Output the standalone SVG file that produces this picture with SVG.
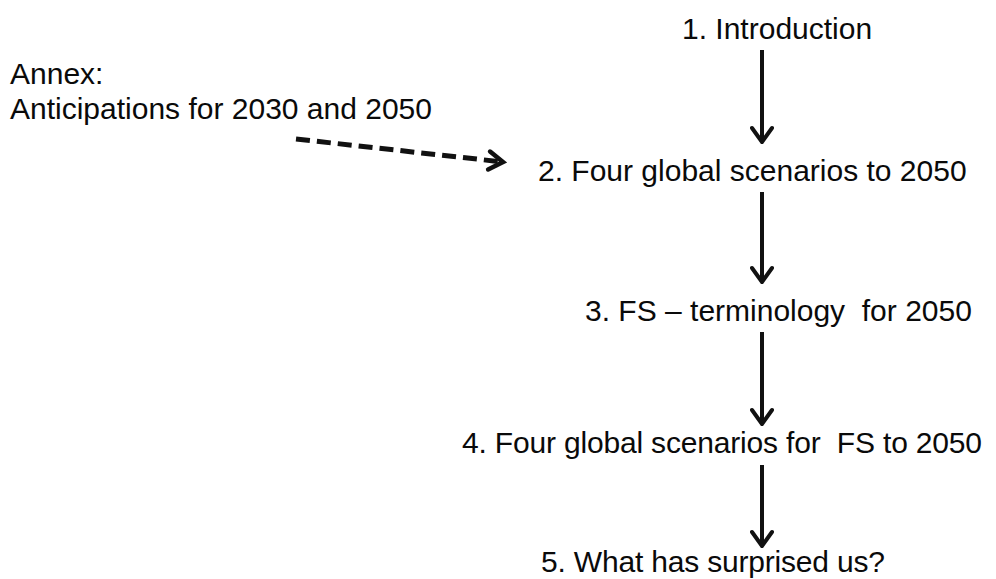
<svg xmlns="http://www.w3.org/2000/svg" width="996" height="579" viewBox="0 0 996 579">
  <style>
    .t { font-family: "Liberation Sans", Arial, sans-serif; font-size: 30px; fill: #0a0a0a; white-space: pre; }
    .flow { stroke: #111; stroke-width: 4; fill: none; }
    .dash { stroke: #111; stroke-width: 5; fill: none; stroke-dasharray: 14 7; }
  </style>
  <defs>
    <marker id="head" viewBox="0 0 24 20" refX="12" refY="18" markerWidth="24" markerHeight="20" markerUnits="userSpaceOnUse" orient="0">
      <path d="M2 4 L12 18 L22 4" fill="none" stroke="#111" stroke-width="4" stroke-linecap="round" stroke-linejoin="miter"/>
    </marker>
    <marker id="dhead" viewBox="0 0 24 24" refX="20" refY="12" markerWidth="24" markerHeight="24" markerUnits="userSpaceOnUse" orient="auto">
      <path d="M6 3 L20 12 L6 21" fill="none" stroke="#111" stroke-width="4.5" stroke-linecap="round"/>
    </marker>
  </defs>

  <g id="n1"><text class="t" x="682" y="39">1. Introduction</text></g>
  <g id="annex">
    <text class="t" x="10" y="84">Annex:</text>
    <text class="t" x="10" y="119">Anticipations for 2030 and 2050</text>
  </g>
  <g id="n2"><text class="t" x="538" y="181">2. Four global scenarios to 2050</text></g>
  <g id="n3"><text class="t" x="585" y="321" xml:space="preserve">3. FS – terminology  for 2050</text></g>
  <g id="n4"><text class="t" x="462" y="453" textLength="520" lengthAdjust="spacing" xml:space="preserve">4. Four global scenarios for  FS to 2050</text></g>
  <g id="n5"><text class="t" x="541" y="572" textLength="344" lengthAdjust="spacing">5. What has surprised us?</text></g>

  <g id="connectors">
    <line class="flow" x1="762" y1="50" x2="762" y2="142" marker-end="url(#head)"/>
    <line class="flow" x1="762" y1="192" x2="762" y2="282" marker-end="url(#head)"/>
    <line class="flow" x1="762" y1="332" x2="762" y2="424" marker-end="url(#head)"/>
    <line class="flow" x1="762" y1="465" x2="762" y2="546" marker-end="url(#head)"/>
    <line class="dash" x1="296" y1="139" x2="503" y2="162" marker-end="url(#dhead)"/>
  </g>
</svg>
